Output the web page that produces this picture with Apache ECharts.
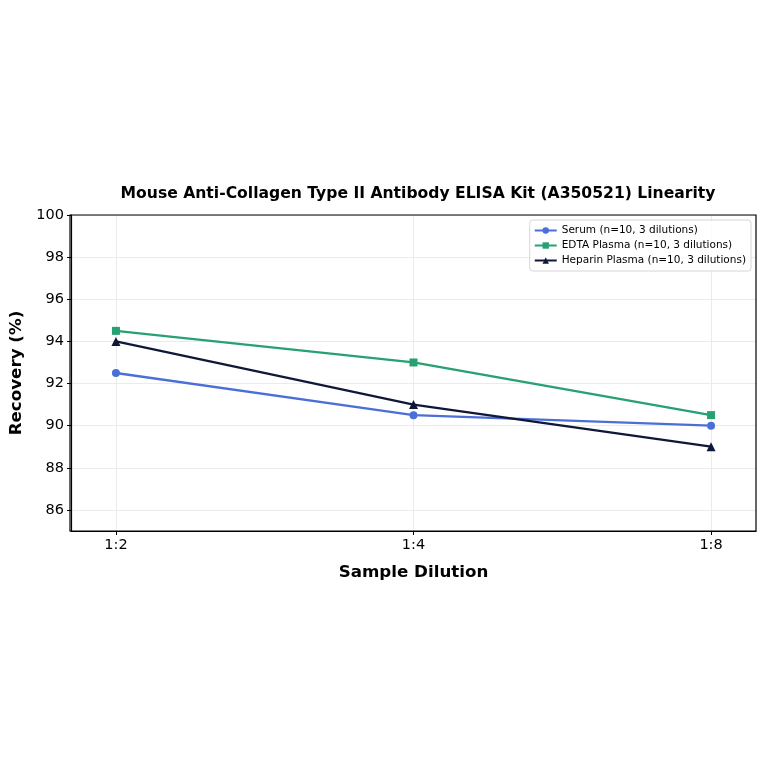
<!DOCTYPE html>
<html>
<head>
<meta charset="utf-8" />
<script src="https://cdn.jsdelivr.net/npm/echarts@6/dist/echarts.min.js"></script>
<style>
  html, body { margin: 0; padding: 0; background: #fff; }
  #main { width: 764px; height: 764px; }
</style>
</head>
<body>
<div id="main"></div>
<script type="text/javascript">
// data
var dilutions = ['1:2', '1:4', '1:8'];
var serum   = [92.5, 90.5, 90.0];
var edta    = [94.5, 93.0, 90.5];
var heparin = [94.0, 91.0, 89.0];
var yTicks  = [86, 88, 90, 92, 94, 96, 98, 100];

function pts(arr) {
    var out = [];
    for (var i = 0; i < arr.length; i++) out.push([i, arr[i]]);
    return out;
}

var chart = echarts.init(document.getElementById('main'));
var font = 'DejaVu Sans';

chart.setOption({
    animation: false,
    textStyle: { fontFamily: font },
    title: {
        text: 'Mouse Anti-Collagen Type II Antibody ELISA Kit (A350521) Linearity',
        left: 413, top: 181, textAlign: 'center',
        textStyle: { fontFamily: font, fontSize: 15.6, fontWeight: 'bold', color: '#000' }
    },
    grid: { left: 70, right: 8, top: 215, bottom: 233, containLabel: false },
    legend: {
        right: 13, top: 220, orient: 'vertical',
        itemWidth: 22, itemHeight: 8, itemGap: 4,
        padding: [5, 5, 5, 4],
        borderColor: '#d6d6d6', borderWidth: 1, borderRadius: 3,
        backgroundColor: 'rgba(255,255,255,0.8)',
        textStyle: { fontFamily: font, fontSize: 10.5, color: '#000' },
        data: ['Serum (n=10, 3 dilutions)', 'EDTA Plasma (n=10, 3 dilutions)', 'Heparin Plasma (n=10, 3 dilutions)']
    },
    xAxis: {
        type: 'value', min: -0.151, max: 2.151,
        name: 'Sample Dilution', nameLocation: 'middle', nameGap: 33,
        nameTextStyle: { fontFamily: font, fontSize: 16.7, fontWeight: 'bold', color: '#000' },
        axisLine: { onZero: false, lineStyle: { color: '#000', width: 1.2 } },
        axisTick: { show: true, customValues: [0, 1, 2], length: 4, lineStyle: { color: '#000' } },
        axisLabel: {
            customValues: [0, 1, 2], fontSize: 14.5, color: '#000', margin: 7,
            formatter: function (v) { return dilutions[Math.round(v)]; }
        },
        splitLine: { show: true, lineStyle: { color: '#ebebeb', width: 1 } }
    },
    yAxis: {
        type: 'value', min: 85, max: 100,
        name: 'Recovery (%)', nameLocation: 'middle', nameGap: 46,
        nameTextStyle: { fontFamily: font, fontSize: 16.7, fontWeight: 'bold', color: '#000' },
        axisLine: { show: true, onZero: false, lineStyle: { color: '#000', width: 1.2 } },
        axisTick: { show: true, customValues: yTicks, length: 4, lineStyle: { color: '#000' } },
        axisLabel: { customValues: yTicks, fontSize: 14.5, color: '#000', margin: 7 },
        splitLine: { show: true, lineStyle: { color: '#ebebeb', width: 1 } }
    },
    series: [
        {
            name: 'Serum (n=10, 3 dilutions)', type: 'line', data: pts(serum),
            symbol: 'circle', symbolSize: 8,
            itemStyle: { color: '#4a70d8' }, lineStyle: { width: 2.3, color: '#4a70d8' }
        },
        {
            name: 'EDTA Plasma (n=10, 3 dilutions)', type: 'line', data: pts(edta),
            symbol: 'rect', symbolSize: 8,
            itemStyle: { color: '#27a072' }, lineStyle: { width: 2.3, color: '#27a072' }
        },
        {
            name: 'Heparin Plasma (n=10, 3 dilutions)', type: 'line', data: pts(heparin),
            symbol: 'triangle', symbolSize: 9,
            itemStyle: { color: '#0f1838' }, lineStyle: { width: 2.3, color: '#0f1838' }
        }
    ]
});

// frame on top and right like the reference
chart.setOption({
    graphic: [{
        type: 'rect', silent: true, z: 100,
        shape: { x: 70, y: 215, width: 686, height: 316 },
        style: { fill: null, stroke: '#000', lineWidth: 1.2 }
    }]
});
</script>
</body>
</html>
